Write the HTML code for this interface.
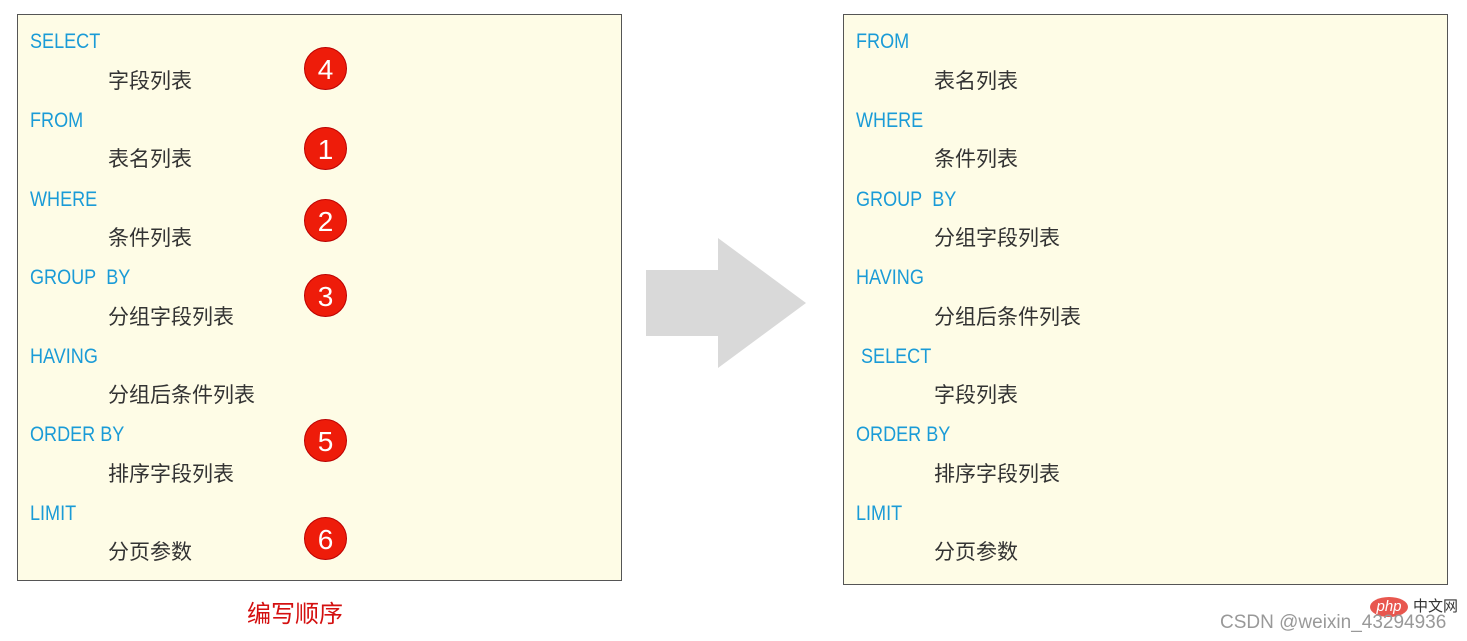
<!DOCTYPE html>
<html><head><meta charset="utf-8"><style>
body{margin:0;width:1467px;height:641px;background:#fff;position:relative;overflow:hidden;font-family:"Liberation Sans","Noto Sans CJK SC",sans-serif}
.box{position:absolute;background:#fefce6;border:1px solid #555;box-sizing:border-box}
.t{position:absolute;font-size:21px;line-height:24px;white-space:nowrap}
.k{color:#1a9bd7;transform:scaleX(0.86);transform-origin:left center}
.v{color:#333}
.c{position:absolute;width:43px;height:43px;border-radius:50%;background:#ee1c0a;color:#fff;font-size:28px;line-height:43px;text-align:center;border:1px solid #b00;box-sizing:border-box}
</style></head><body>
<div class="box" style="left:17px;top:14px;width:605px;height:567px"></div>
<div class="box" style="left:843px;top:14px;width:605px;height:571px"></div>

<div class="t k" style="left:30px;top:30px">SELECT</div>
<div class="t v" style="left:108px;top:70px">字段列表</div>
<div class="t k" style="left:30px;top:109px">FROM</div>
<div class="t v" style="left:108px;top:148px">表名列表</div>
<div class="t k" style="left:30px;top:188px">WHERE</div>
<div class="t v" style="left:108px;top:227px">条件列表</div>
<div class="t k" style="left:30px;top:266px">GROUP&nbsp; BY</div>
<div class="t v" style="left:108px;top:306px">分组字段列表</div>
<div class="t k" style="left:30px;top:345px">HAVING</div>
<div class="t v" style="left:108px;top:384px">分组后条件列表</div>
<div class="t k" style="left:30px;top:423px">ORDER BY</div>
<div class="t v" style="left:108px;top:463px">排序字段列表</div>
<div class="t k" style="left:30px;top:502px">LIMIT</div>
<div class="t v" style="left:108px;top:541px">分页参数</div>

<div class="c" style="left:304px;top:47px">4</div>
<div class="c" style="left:304px;top:127px">1</div>
<div class="c" style="left:304px;top:199px">2</div>
<div class="c" style="left:304px;top:274px">3</div>
<div class="c" style="left:304px;top:419px">5</div>
<div class="c" style="left:304px;top:517px">6</div>

<div class="t k" style="left:856px;top:30px">FROM</div>
<div class="t v" style="left:934px;top:70px">表名列表</div>
<div class="t k" style="left:856px;top:109px">WHERE</div>
<div class="t v" style="left:934px;top:148px">条件列表</div>
<div class="t k" style="left:856px;top:188px">GROUP&nbsp; BY</div>
<div class="t v" style="left:934px;top:227px">分组字段列表</div>
<div class="t k" style="left:856px;top:266px">HAVING</div>
<div class="t v" style="left:934px;top:306px">分组后条件列表</div>
<div class="t k" style="left:861px;top:345px">SELECT</div>
<div class="t v" style="left:934px;top:384px">字段列表</div>
<div class="t k" style="left:856px;top:423px">ORDER BY</div>
<div class="t v" style="left:934px;top:463px">排序字段列表</div>
<div class="t k" style="left:856px;top:502px">LIMIT</div>
<div class="t v" style="left:934px;top:541px">分页参数</div>

<svg style="position:absolute;left:0;top:0" width="1467" height="641">
<polygon points="646,270 718,270 718,238 806,303 718,368 718,336 646,336" fill="#d9d9d9"/>
</svg>

<div style="position:absolute;left:247px;top:600px;font-size:24px;line-height:30px;color:#d41010">编写顺序</div>
<div style="position:absolute;left:1370px;top:597px;width:38px;height:20px;border-radius:50%;background:#e8574f;color:#fff;font-size:15px;line-height:19px;text-align:center;font-style:italic">php</div>
<div style="position:absolute;left:1413px;top:598px;font-size:15px;line-height:18px;color:#333">中文网</div>
<div style="position:absolute;left:1220px;top:612px;font-size:19px;line-height:22px;color:#999">CSDN @weixin_43294936</div>
</body></html>
